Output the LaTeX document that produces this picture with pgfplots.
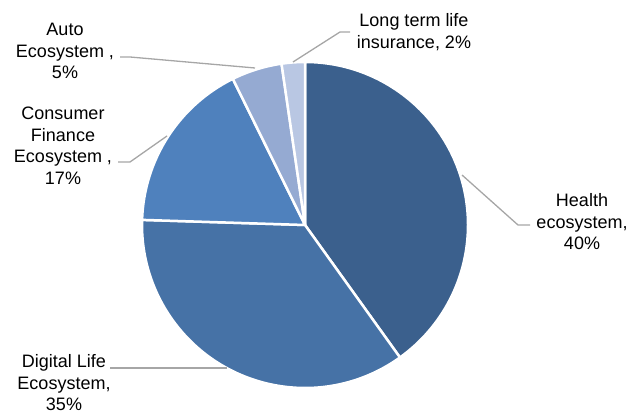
\documentclass[border=0pt]{standalone}
\usepackage{pgfplots}
\pgfplotsset{compat=1.18}
\usepackage{pgfplotstable}
\usepackage{fontspec}
\setmainfont{Liberation Sans}
\definecolor{cHealth}{HTML}{3B608D}
\definecolor{cDigital}{HTML}{4672A6}
\definecolor{cConsumer}{HTML}{4F81BD}
\definecolor{cAuto}{HTML}{95AAD2}
\definecolor{cLong}{HTML}{B9C7E3}
\definecolor{leader}{HTML}{A6A6A6}

\pgfplotstableread{
name value
Health 40.1
Digital 35.4
Consumer 17.2
Auto 5.0
Long 2.3
}\piedata

\pgfplotstablegetelem{0}{value}\of\piedata \let\vA\pgfplotsretval
\pgfplotstablegetelem{1}{value}\of\piedata \let\vB\pgfplotsretval
\pgfplotstablegetelem{2}{value}\of\piedata \let\vC\pgfplotsretval
\pgfplotstablegetelem{3}{value}\of\piedata \let\vD\pgfplotsretval
\pgfplotstablegetelem{4}{value}\of\piedata \let\vE\pgfplotsretval
\pgfmathsetmacro{\total}{\vA+\vB+\vC+\vD+\vE}
\pgfmathsetmacro{\aA}{90-360*\vA/\total}
\pgfmathsetmacro{\aB}{\aA-360*\vB/\total}
\pgfmathsetmacro{\aC}{\aB-360*\vC/\total}
\pgfmathsetmacro{\aD}{\aC-360*\vD/\total}
\pgfmathsetmacro{\aE}{\aD-360*\vE/\total}

\newcommand{\slice}[3]{%
  \fill[#3, draw=white, line width=2.5bp, line join=round]
    (axis cs:305,187) -- ++(#1:163bp) arc[start angle=#1, end angle=#2, radius=163bp] -- cycle;}

\tikzset{lbl/.style={font=\fontsize{18bp}{21.5bp}\selectfont, align=center, text=black, inner sep=0pt}}

\begin{document}
\begin{tikzpicture}
\begin{axis}[
  scale only axis, width=631bp, height=412bp,
  xmin=0, xmax=631, ymin=0, ymax=412,
  hide axis, clip=false,
]
\addplot[draw=none] coordinates {(0,0) (631,412)};
\slice{90}{\aA}{cHealth}
\slice{\aA}{\aB}{cDigital}
\slice{\aB}{\aC}{cConsumer}
\slice{\aC}{\aD}{cAuto}
\slice{\aD}{\aE}{cLong}
% leader lines
\draw[leader, line width=1.3bp] (axis cs:293,350) -- (axis cs:340,380) -- (axis cs:350,380);
\draw[leader, line width=1.3bp] (axis cs:255,344) -- (axis cs:130,355) -- (axis cs:120,355);
\draw[leader, line width=1.3bp] (axis cs:167,276) -- (axis cs:130,250) -- (axis cs:118,250);
\draw[leader, line width=1.3bp] (axis cs:227,44) -- (axis cs:110,44);
\draw[leader, line width=1.3bp] (axis cs:462,237) -- (axis cs:518,187) -- (axis cs:530,187);
% labels
\node[lbl] at (axis cs:414,380) {Long term life\\insurance, 2\%};
\node[lbl] at (axis cs:582,190) {Health\\ecosystem,\\40\%};
\node[lbl] at (axis cs:64,29) {Digital Life\\Ecosystem,\\35\%};
\node[lbl] at (axis cs:65,361) {Auto\\Ecosystem ,\\5\%};
\node[lbl] at (axis cs:63,266) {Consumer\\Finance\\Ecosystem ,\\17\%};
\end{axis}
\pgfresetboundingbox
\useasboundingbox (current axis.south west) rectangle (current axis.north east);
\end{tikzpicture}
\end{document}
